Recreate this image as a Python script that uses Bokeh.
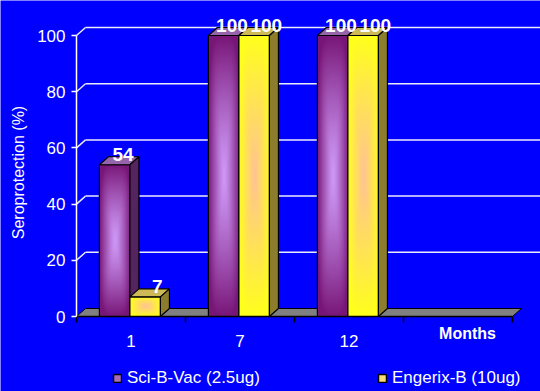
import math
import numpy as np
from bokeh.plotting import figure
from bokeh.models import Range1d, FixedTicker, Legend, LegendItem
from bokeh.embed import file_html
from bokeh.resources import INLINE
from bokeh.core.properties import value

# ---------------- data ----------------
months = ["1", "7", "12"]
sci_b_vac = [54, 100, 100]
engerix_b = [7, 100, 100]
series_names = ["Sci-B-Vac (2.5ug)", "Engerix-B (10ug)"]
y_ticks = [0, 20, 40, 60, 80, 100]
x_title = "Months"
y_title = "Seroprotection (%)"

# ---------------- layout ----------------
W, H = 540, 391
LEFT = 76                         # pixel column of the value axis
ZERO_PX = 316                     # pixel row of the value 0
N_CAT = len(months) + 1           # one empty slot where the axis title sits
PX_X = 109.0                      # pixels per category
PX_Y = 2.81                       # pixels per percent
x_start, x_end = -LEFT / PX_X, (W - LEFT) / PX_X
y_start, y_end = -(H - ZERO_PX) / PX_Y, ZERO_PX / PX_Y
DX = 9 / PX_X                     # 3-D depth offset
DY = 8 / PX_Y
BAR_START = 0.21
BAR_W = 0.28
FONT = "Liberation Sans"
BG = "#0000FF"

styles = [
    dict(dark=(120, 22, 120), light=(206, 152, 246), gamma=1.25, top="#9664AA",
         side="#55235F", legend="#A86CB8", label_off=0.035),
    dict(dark=(255, 255, 28), light=(255, 194, 150), gamma=1.0, top="#CDB955",
         side="#8C7D2D", legend="#F8DC78", label_off=0.07),
]


def gradient_image(value_pct, st):
    nx = int(round(BAR_W * PX_X))
    ny = max(4, int(round(value_pct * PX_Y)))
    u = (np.arange(nx) + 0.5) / nx * 2 - 1
    v = (np.arange(ny) + 0.5) / ny * 2 - 1
    uu, vv = np.meshgrid(np.abs(u), np.abs(v))
    d = np.clip((uu ** 4 + vv ** 4) ** 0.25, 0, 1) ** st["gamma"]
    img = np.empty((ny, nx), dtype=np.uint32)
    view = img.view(dtype=np.uint8).reshape((ny, nx, 4))
    for k in range(3):
        view[:, :, k] = np.round(st["light"][k] + (st["dark"][k] - st["light"][k]) * d)
    view[:, :, 3] = 255
    return img


p = figure(width=W, height=H, x_range=Range1d(x_start, x_end),
           y_range=Range1d(y_start, y_end), output_backend="svg", toolbar_location=None,
           min_border_left=0, min_border_right=0, min_border_top=0, min_border_bottom=0,
           background_fill_color=BG, border_fill_color=BG, outline_line_color=None)
p.xgrid.visible = False
p.ygrid.visible = False

# y axis at category position 0
yax = p.yaxis[0]
yax.fixed_location = 0
yax.ticker = FixedTicker(ticks=y_ticks, minor_ticks=[])
yax.bounds = (0, 100)
yax.axis_line_color = "white"
yax.axis_line_width = 1.5
yax.major_tick_line_color = "white"
yax.major_tick_line_width = 1.5
yax.major_tick_out = 5
yax.major_tick_in = 0
yax.minor_tick_line_color = None
yax.major_label_text_color = "white"
yax.major_label_text_font = FONT
yax.major_label_text_font_size = "17px"
yax.major_label_standoff = 6

# x axis at value 0
xax = p.xaxis[0]
centers = [i + 0.5 for i in range(len(months))]
xax.fixed_location = 0
xax.ticker = FixedTicker(ticks=centers, minor_ticks=list(range(N_CAT + 1)))
xax.major_label_overrides = {c: m for c, m in zip(centers, months)}
xax.bounds = (0, N_CAT)
xax.axis_line_color = "black"
xax.axis_line_width = 1.5
xax.major_tick_line_color = None
xax.major_tick_out = 0
xax.major_tick_in = 0
xax.minor_tick_line_color = "black"
xax.minor_tick_line_width = 1.5
xax.minor_tick_out = 6
xax.minor_tick_in = 0
xax.major_label_text_color = "white"
xax.major_label_text_font = FONT
xax.major_label_text_font_size = "17px"
xax.major_label_standoff = 12

# back-wall gridlines with 3-D connectors
gx0, gy0, gx1, gy1 = [], [], [], []
for v in y_ticks[1:]:
    gx0 += [0, DX]
    gy0 += [v, v + DY]
    gx1 += [DX, x_end]
    gy1 += [v + DY, v + DY]
p.segment(gx0, gy0, gx1, gy1, line_color="#ECECFF", line_width=1.5)

# legend proxies (degenerate, hidden beneath the floor)
legend_renderers = []
for s in range(len(series_names)):
    legend_renderers.append(
        p.quad(left=[1], right=[1], bottom=[DY / 2], top=[DY / 2],
               fill_color=styles[s]["legend"], line_color="black", line_width=1.5))

# floor
p.patch([0, N_CAT, N_CAT + DX, DX], [0, 0, DY, DY], fill_color="#808080",
        line_color="black", line_width=1)

# bars
for s, vals in enumerate([sci_b_vac, engerix_b]):
    st = styles[s]
    ox0, ox1, oy1 = [], [], []
    top_xs, top_ys, side_xs, side_ys = [], [], [], []
    for i, v in enumerate(vals):
        x0 = i + BAR_START + s * BAR_W
        x1 = x0 + BAR_W
        p.image_rgba(image=[gradient_image(v, st)], x=x0, y=0, dw=BAR_W, dh=v)
        ox0.append(x0)
        ox1.append(x1)
        oy1.append(v)
        top_xs.append([x0, x1, x1 + DX, x0 + DX])
        top_ys.append([v, v, v + DY, v + DY])
        side_xs.append([x1, x1 + DX, x1 + DX, x1])
        side_ys.append([0, DY, v + DY, v])
    p.quad(left=ox0, right=ox1, bottom=[0] * len(vals), top=oy1, fill_color=None,
           line_color="black", line_width=1.2)
    p.patches(top_xs, top_ys, fill_color=st["top"], line_color="black", line_width=1.2)
    p.patches(side_xs, side_ys, fill_color=st["side"], line_color="black", line_width=1.2)

# value labels
for s, vals in enumerate([sci_b_vac, engerix_b]):
    lx = [i + BAR_START + s * BAR_W + (BAR_W + DX) / 2 + styles[s]["label_off"]
          for i in range(len(vals))]
    ly = [v + DY + 0.7 for v in vals]
    p.text(x=lx, y=ly, text=[str(v) for v in vals], text_color="white",
           text_font=value(FONT), text_font_size="19px", text_font_style="bold",
           text_align="center", text_baseline="alphabetic")

# axis titles
p.text(x=[(467 - LEFT) / PX_X], y=[-17 / PX_Y], text=[x_title], text_color="white",
       text_font=value(FONT), text_font_size="16px", text_font_style="bold",
       text_align="center", text_baseline="middle")
p.text(x=[(18 - LEFT) / PX_X], y=[(ZERO_PX - 172) / PX_Y], text=[y_title],
       angle=math.pi / 2, text_color="white", text_font=value(FONT),
       text_font_size="16px", text_align="center", text_baseline="middle")

# legend
items = [LegendItem(label=name, renderers=[r])
         for name, r in zip(series_names, legend_renderers)]
legend = Legend(items=items, orientation="horizontal", location=(112, 3),
                glyph_width=10, glyph_height=10, label_height=18, label_width=250,
                label_standoff=5, spacing=0, padding=0, margin=0,
                label_text_color="white", label_text_font=FONT,
                label_text_font_size="17px", background_fill_alpha=0,
                border_line_alpha=0)
p.add_layout(legend, "center")

open("out.html", "w").write(file_html(p, INLINE))
